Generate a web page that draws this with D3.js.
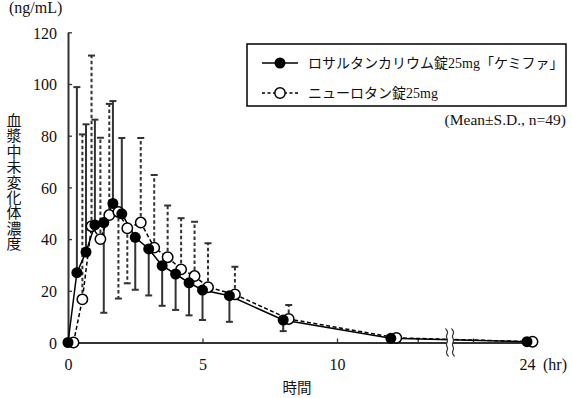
<!DOCTYPE html>
<html>
<head>
<meta charset="utf-8">
<script src="https://cdn.jsdelivr.net/npm/d3@7"></script>
<style>
  body { margin: 0; background: #fff; }
  svg text { font-family: "Liberation Serif", "Noto Sans CJK JP", serif; fill: #111; }
</style>
</head>
<body>
<figure id="pk" style="margin:0"></figure>
<script>
// sampling times (hr)
const times = [0, 0.33, 0.67, 1, 1.33, 1.67, 2, 2.5, 3, 3.5, 4, 4.5, 5, 6, 8, 12, 24];

// ロサルタンカリウム錠25mg「ケミファ」 (filled)
const meanKemifa = [0, 27.0, 35.0, 45.5, 46.4, 53.8, 49.8, 40.7, 36.2, 29.7, 26.5, 23.1, 20.3, 18.1, 8.7, 1.6, 0.3];
const sdKemifa = [0, 71.8, 49.4, 40.7, 34.9, 39.6, 29.3, 20.3, 18.0, 15.5, 13.9, 12.6, 11.6, 10.1, 4.3, 1.2, 0.3];
const barDirKemifa = [1, 1, 1, 1, -1, 1, 1, -1, -1, -1, -1, -1, -1, -1, -1, -1, -1];

// ニューロタン錠25mg (open)
const meanNeuro = [0, 16.7, 45.0, 40.0, 49.3, 50.5, 44.2, 46.4, 36.7, 33.0, 28.3, 25.7, 21.4, 18.6, 9.1, 1.8, 0.3];
const sdNeuro = [0, 63.8, 66.0, 39.2, 43.0, 33.5, 21.3, 32.7, 28.1, 20.0, 19.8, 21.0, 17.0, 10.7, 5.4, 1.5, 0.3];
const barDirNeuro = [1, 1, 1, 1, 1, -1, -1, 1, 1, 1, 1, 1, 1, 1, 1, 1, 1];

const yTicks = [0, 20, 40, 60, 80, 100, 120];
const xTicks = [0, 5, 10, 13, 22, 24];
const xTickLabels = [0, 5, 10, 24];

const legendNames = ["ロサルタンカリウム錠25mg「ケミファ」", "ニューロタン錠25mg"];
const yLabel = "血漿中未変化体濃度";

const width = 572, height = 398;
const dodge = 5.5; // open markers are shifted a little to the right

const svg = d3.select("figure#pk")
  .append("svg")
  .attr("width", width)
  .attr("height", height);

// broken time axis: 0-14.2 h, then 21.15-24 h
const x = d3.scaleLinear()
  .domain([0, 14.2, 21.15, 24])
  .range([68, 450, 450, 527]);

const y = d3.scaleLinear()
  .domain([0, 120])
  .range([342.5, 32.3]);

// axes
const xAxis = svg.append("g")
  .attr("transform", "translate(0," + y(0) + ")")
  .call(d3.axisBottom(x)
    .tickValues(xTicks)
    .tickSizeInner(-4)
    .tickSizeOuter(0)
    .tickPadding(16)
    .tickFormat(d => xTickLabels.includes(d) ? d : ""));

const yAxis = svg.append("g")
  .attr("transform", "translate(" + x(0) + ",0)")
  .call(d3.axisLeft(y)
    .tickValues(yTicks)
    .tickSizeInner(-4)
    .tickSizeOuter(0)
    .tickPadding(11));

[xAxis, yAxis].forEach(g => {
  g.select(".domain").attr("stroke", "#333").attr("stroke-width", 2);
  g.selectAll(".tick line").attr("stroke", "#333").attr("stroke-width", 1.3);
  g.selectAll(".tick text").style("font-size", "16px").attr("fill", "#111");
});
yAxis.selectAll(".tick text").attr("dy", "0.36em");

// error bars
function drawBars(means, sds, dirs, dx, dashed) {
  const g = svg.append("g")
    .attr("stroke", "#333")
    .attr("stroke-width", 2);
  times.forEach((t, i) => {
    if (sds[i] <= 0) return;
    const cx = x(t) + dx;
    const end = Math.max(means[i] + dirs[i] * sds[i], 0);
    g.append("line")
      .attr("x1", cx).attr("x2", cx)
      .attr("y1", y(means[i])).attr("y2", y(end))
      .attr("stroke-dasharray", dashed ? "3.5,2.5" : null);
    g.append("line")
      .attr("x1", cx - 3.5).attr("x2", cx + 3.5)
      .attr("y1", y(end)).attr("y2", y(end));
  });
}
drawBars(meanKemifa, sdKemifa, barDirKemifa, 0, false);
drawBars(meanNeuro, sdNeuro, barDirNeuro, dodge, true);

// mean lines
const lineNeuro = d3.line()
  .x((d, i) => x(times[i]) + dodge)
  .y(d => y(d));
const lineKemifa = d3.line()
  .x((d, i) => x(times[i]))
  .y(d => y(d));

svg.append("path")
  .datum(meanNeuro)
  .attr("d", lineNeuro)
  .attr("fill", "none")
  .attr("stroke", "#000")
  .attr("stroke-width", 1.5)
  .attr("stroke-dasharray", "4,2.5");

svg.append("path")
  .datum(meanKemifa)
  .attr("d", lineKemifa)
  .attr("fill", "none")
  .attr("stroke", "#000")
  .attr("stroke-width", 1.5);

// markers
svg.selectAll("circle.neuro")
  .data(meanNeuro)
  .enter()
  .append("circle")
  .attr("class", "neuro")
  .attr("cx", (d, i) => x(times[i]) + dodge)
  .attr("cy", d => y(d))
  .attr("r", 5.2)
  .attr("fill", "#fff")
  .attr("stroke", "#000")
  .attr("stroke-width", 1.5);

svg.selectAll("circle.kemifa")
  .data(meanKemifa)
  .enter()
  .append("circle")
  .attr("class", "kemifa")
  .attr("cx", (d, i) => x(times[i]))
  .attr("cy", d => y(d))
  .attr("r", 5.5)
  .attr("fill", "#000");

// axis break mark
const bx = 450, by = y(0);
const brk = svg.append("g");
brk.append("rect")
  .attr("x", bx - 3).attr("y", by - 14)
  .attr("width", 6).attr("height", 28)
  .attr("fill", "#fff");
const wave = d3.line().curve(d3.curveBasis);
[-3, 3].forEach(off => {
  const pts = d3.range(0, 8).map(k => [bx + off + (k % 2 ? 1.6 : -1.6), by - 14 + k * 4]);
  brk.append("path")
    .attr("d", wave(pts))
    .attr("fill", "none")
    .attr("stroke", "#333")
    .attr("stroke-width", 1.2);
});

// axis titles
svg.append("text")
  .attr("x", 9).attr("y", 13)
  .style("font-size", "16px")
  .text("(ng/mL)");

svg.append("text")
  .attr("x", 543).attr("y", 370)
  .style("font-size", "16px")
  .text("(hr)");

svg.append("text")
  .attr("x", 297).attr("y", 388)
  .attr("text-anchor", "middle")
  .attr("dominant-baseline", "central")
  .style("font-size", "14.5px")
  .text("時間");

svg.selectAll("text.ylab")
  .data(yLabel.split(""))
  .enter()
  .append("text")
  .attr("class", "ylab")
  .attr("x", 14)
  .attr("y", (d, i) => 121 + i * 15.4)
  .attr("text-anchor", "middle")
  .attr("dominant-baseline", "central")
  .style("font-size", "15px")
  .text(d => d);

// legend
const legend = svg.append("g");
legend.append("rect")
  .attr("x", 247).attr("y", 44)
  .attr("width", 319).attr("height", 62)
  .attr("fill", "#fff")
  .attr("stroke", "#000")
  .attr("stroke-width", 1.5);

const legendRows = [63, 93];
legendNames.forEach((name, i) => {
  const ly = legendRows[i];
  legend.append("line")
    .attr("x1", 262).attr("x2", 298)
    .attr("y1", ly).attr("y2", ly)
    .attr("stroke", "#000")
    .attr("stroke-width", 1.5)
    .attr("stroke-dasharray", i ? "3,2.5" : null);
  legend.append("circle")
    .attr("cx", 280).attr("cy", ly)
    .attr("r", i ? 5.2 : 5.5)
    .attr("fill", i ? "#fff" : "#000")
    .attr("stroke", "#000")
    .attr("stroke-width", i ? 1.5 : 0);
  legend.append("text")
    .attr("x", 308).attr("y", ly)
    .attr("dominant-baseline", "central")
    .style("font-size", "14px")
    .text(name);
});

svg.append("text")
  .attr("x", 566).attr("y", 125)
  .attr("text-anchor", "end")
  .style("font-size", "15.5px")
  .text("(Mean±S.D., n=49)");
</script>
</body>
</html>
